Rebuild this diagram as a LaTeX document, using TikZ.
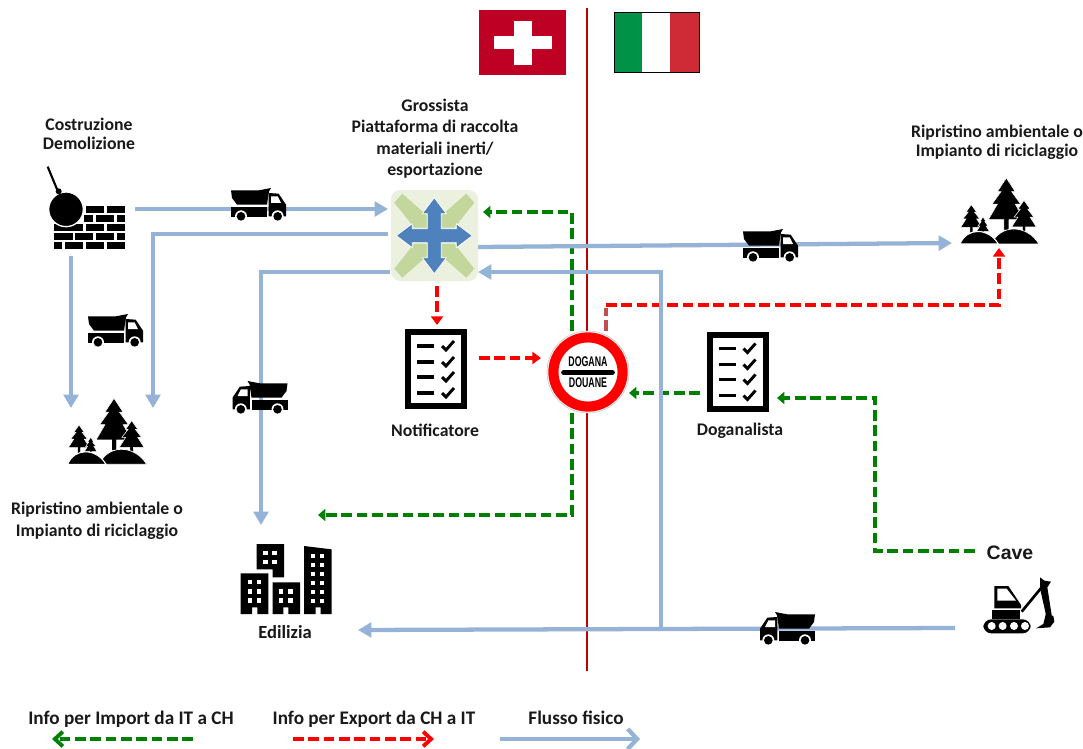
\documentclass[tikz,border=0pt]{standalone}
\usepackage{fontspec}
\setmainfont{Carlito}
\newfontfamily\cavefont{Liberation Sans}
\usetikzlibrary{arrows.meta,calc,shapes.geometric}
\pgfdeclarelayer{bg}
\pgfsetlayers{bg,main}
\definecolor{flowblue}{HTML}{95B3D7}
\definecolor{infogreen}{HTML}{008000}
\definecolor{inforedx}{HTML}{FF0000}
\definecolor{infobrown}{HTML}{C0504D}
\definecolor{borderred}{HTML}{C00000}
\definecolor{swissred}{HTML}{BD0024}
\definecolor{hubbg}{HTML}{EBF1DE}
\definecolor{hubgreen}{HTML}{C3D69B}
\definecolor{hubblue}{HTML}{4F81BD}
\newcommand{\firtree}[4]{\fill[black,draw=white,line width=.4pt,shift={(#1,#2)},xscale=#3,yscale=#4]
  (0,0)--(-.5,.33)--(-.3,.33)--(-.8,.63)--(-.5,.63)--(-1,1)--(-.14,1)--(-.14,1.25)--(.14,1.25)--(.14,1)--(1,1)--(.5,.63)--(.8,.63)--(.3,.33)--(.5,.33)--cycle;}
\newcommand{\winrow}[2]{\foreach \wx in {#1}{\fill[white] (\wx,#2) rectangle ++(13,13);}}
\tikzset{
  slot/.style n args={2}{inner sep=0pt,outer sep=0pt,minimum width=#1*0.75pt,minimum height=#2*0.75pt},
  lbl/.style={inner sep=0pt,outer sep=0pt,align=center,text=black!90,font=\fontsize{13.3}{14.3}\selectfont\bfseries},
  leglbl/.style={lbl,font=\fontsize{14.4}{16}\selectfont\bfseries},
  flow/.style={draw=flowblue,line width=3.2pt,-{Triangle[length=10pt,width=11pt]}},
  flowline/.style={draw=flowblue,line width=3.2pt},
  infodash/.style={line width=2.9pt,dash pattern=on 8pt off 3.5pt},
  greenarrow/.style={draw=infogreen,infodash,-{Triangle[length=5.5pt,width=9pt]}},
  redarrow/.style={draw=inforedx,infodash,-{Triangle[length=6.5pt,width=9pt]}},
  truckicon/.pic={
    \fill (0,7)--(83,7)--(120,0)--(114,10)--(108,50)--(18,50)--(3,30)--cycle;
    \fill (0,58) rectangle (108,88);
    \fill (113,15)--(143,17)--(165,50)--(165,85)--(113,85)--cycle;
    \fill[white] (120,25)--(140,25)--(150,45)--(120,45)--cycle;
    \foreach \cx in {30,140}{\fill[white] (\cx,85) circle[radius=18];\fill (\cx,85) circle[radius=13];}
  },
  checkicon/.pic={
    \draw[line width=4.5pt,fill=white] (-28,-37) rectangle (28,37);
    \foreach \ry in {-23,-7,8,24}{
      \draw[line width=2.4pt] (-19,\ry)--(-2,\ry);
      \draw[line width=2.2pt] (6,\ry)--(10,\ry+4)--(18,\ry-5);
    }
  },
  treesicon/.pic={
    \firtree{139}{0}{54}{125}
    \firtree{192}{67}{37}{80}
    \firtree{34}{80}{32}{68}
    \firtree{69}{117}{19}{43}
    \fill[draw=white,line width=.5pt] (95,198) .. controls (120,138) and (200,138) .. (237,198) -- cycle;
    \fill[draw=white,line width=.8pt] (0,198) .. controls (20,148) and (85,148) .. (115,198) -- cycle;
  }
}
\begin{document}
\begin{tikzpicture}[x=0.75pt,y=-0.75pt]
\useasboundingbox (0,0) rectangle (1083,749);

% anchor nodes
\node[slot={87}{89}] (dem) at (91.5,211.5) {};
\node[slot={85}{57}] (treeL) at (110.5,436.5) {};
\node[slot={85}{70}] (treeR) at (994.5,213) {};
\node[slot={117}{105}] (edil) at (299.5,577.5) {};
\node[slot={62}{80}] (notif) at (436,369) {};
\node[slot={63}{81}] (dogan) at (737.5,371.5) {};
\node[slot={70}{58}] (cave) at (1018,606) {};
\coordinate (junction) at (661,629);
\coordinate (redcorner) at (606,305);

% hub
\node[slot={87}{91},rectangle,rounded corners=7pt,fill=hubbg] (gross) at (434.5,235.5) {};
\begin{scope}[shift={(434.3,235.7)}]
  \foreach \sx/\sy in {1/1,-1/1,1/-1,-1/-1}{
    \fill[hubgreen,xscale=\sx,yscale=\sy] (-40,-33)--(-32,-42)--(-7,-20)--(-7,-8)--(-20,-8)--cycle;
  }
  \fill[hubblue,draw=white,line width=.5pt] (-38,0)--(-22,-12)--(-22,-7)--(-7,-7)--(-7,-22)--(-12,-22)--(0,-38)--(12,-22)--(7,-22)--(7,-7)--(22,-7)--(22,-12)--(38,0)--(22,12)--(22,7)--(7,7)--(7,22)--(12,22)--(0,38)--(-12,22)--(-7,22)--(-7,7)--(-22,7)--(-22,12)--cycle;
\end{scope}

% customs sign
\node[circle,inner sep=0pt,outer sep=0pt,minimum size=61.5pt,draw=black!25,line width=.4pt,fill=white] (dogana) at (588,372) {};
\draw[red,line width=7.6pt] (dogana.center) circle[radius=34.6];
\draw[line width=4.3pt,line cap=round] ($(dogana.center)+(-24,.5)$) -- ($(dogana.center)+(24,.5)$);
\node[inner sep=0pt,font=\cavefont\bfseries\fontsize{10.5}{12}\selectfont] (dog1) at ($(dogana.center)+(0,-10.5)$) {\scalebox{.63}[1]{DOGANA}};
\node[inner sep=0pt,font=\cavefont\bfseries\fontsize{10.5}{12}\selectfont] (dog2) at ($(dogana.center)+(0,11)$) {\scalebox{.63}[1]{DOUANE}};

% flags
\fill[swissred] (479,10) rectangle (566,75);
\fill[white] (494,36) rectangle (552,49);
\fill[white] (514,21) rectangle (532,65);
\fill[fill=white] (614,12) rectangle (699,72);
\fill[fill={rgb,255:red,0;green,146;blue,70}] (614,12) rectangle (642,72);
\fill[fill={rgb,255:red,206;green,43;blue,55}] (670,12) rectangle (699,72);
\draw[black,line width=.7pt] (614,12) rectangle (699,72);

% demolition icon
\begin{scope}[shift={(20,150)},scale=1/3]
  \draw[line width=1.6pt] (83,50)--(112,120);
  \foreach \ya/\bricks in {168/{197/252,260/315},195/{192/220,228/283,291/315},222/{102/190,197/252,260/315},250/{102/158,166/220,228/283,291/315},277/{102/127,135/190,197/252,260/315}}{
    \foreach \xa/\xb in \bricks {\fill (\xa,\ya) rectangle (\xb,\ya+20);}
  }
  \fill[draw=white,line width=1pt] (138,178) circle[radius=52];
  \fill (116,124) circle[radius=9];
\end{scope}

% trees
\pic[scale=1/3] at (67.7,398.3) {treesicon};
\pic[scale=1/3] at (960,178) {treesicon};

% buildings
\begin{scope}[shift={(220,530)},scale=1/3]
  \fill (110,42)--(192,42)--(192,142)--(158,142)--(158,118)--(110,118)--cycle;
  \winrow{130,157}{63}\winrow{130,157}{90}
  \fill (62,130)--(145,130)--(145,252)--(112,252)--(112,232)--(96,232)--(96,252)--(62,252)--cycle;
  \winrow{83,110}{150}\winrow{83,110}{178}\winrow{83,110}{205}
  \fill (158,157)--(240,157)--(240,252)--(205,252)--(205,232)--(190,232)--(190,252)--(158,252)--cycle;
  \winrow{177,205}{178}\winrow{177,205}{205}
  \fill (252,48)--(335,58)--(335,252)--(302,252)--(302,232)--(287,232)--(287,252)--(252,252)--cycle;
  \foreach \wy in {72,98,125,152,180,207}{\winrow{273,300}{\wy}}
\end{scope}

% excavator
\begin{scope}[shift={(940,530)},scale=1/3]
  \fill (163,168)--(205,168)--(243,225)--(243,235)--(163,235)--cycle;
  \fill[white] (172,176)--(200,176)--(228,212)--(172,212)--cycle;
  \fill (155,240) rectangle (240,268);
  \fill[rounded corners=6pt] (130,268) rectangle (272,310);
  \foreach \wx in {155,188,222,255}{\fill[white] (\wx,288) circle[radius=12];}
  \draw[line width=2pt] (245,245)--(305,172);
  \fill (300,142)--(313,152)--(333,155)--(322,172)--(335,255)--(318,255)--(300,175)--cycle;
  \fill (318,250)--(340,258)--(343,275)--(330,292)--(288,295)--(310,282)--cycle;
\end{scope}

% checklists
\pic at (notif.center) {checkicon};
\pic at (dogan.center) {checkicon};

% trucks
\pic[scale=1/3] (t1) at (231,188) {truckicon};
\pic[scale=1/3] (t2) at (88,314) {truckicon};
\pic[xscale=-1/3,yscale=1/3] (t3) at (287.5,381) {truckicon};
\pic[scale=1/3] (t4) at (743,229) {truckicon};
\pic[xscale=-1/3,yscale=1/3] (t5) at (815,612) {truckicon};

% labels
\node[lbl] (lCostr) at (89,133.5) {Costruzione\\Demolizione};
\node[lbl] (lGross) at (435,138.5) {Grossista\\[1.8pt]Piattaforma di raccolta\\[1.8pt]materiali inerti/\\[1.8pt]esportazione};
\node[lbl] (lRipR) at (997,142.5) {Ripristino ambientale o\\Impianto di riciclaggio};
\node[lbl] (lRipL) at (97,521) {Ripristino ambientale o\\[2.2pt]Impianto di riciclaggio};
\node[lbl] (lNotif) at (435,430) {Notificatore};
\node[lbl] (lDogan) at (740,430.5) {Doganalista};
\node[lbl,font=\fontsize{13.9}{15}\selectfont\bfseries] (lEdil) at (285,632) {Edilizia};
\node[inner sep=0pt,outer sep=0pt,font=\cavefont\bfseries\fontsize{14.6}{16}\selectfont,text=black!90] (lCave) at (1010,553) {Cave};
\node[leglbl] (lLegG) at (131,719) {Info per Import da IT a CH};
\node[leglbl] (lLegR) at (374,719) {Info per Export da CH a IT};
\node[leglbl] (lLegB) at (576,718) {Flusso fisico};

% legend ends
\coordinate (lgA) at (193,739); \coordinate (lgB) at (52,739);
\coordinate (lrA) at (293,739); \coordinate (lrB) at (434,739);
\coordinate (lbA) at (500,739); \coordinate (lbB) at (640,739);
\coordinate (borderTop) at (587,8); \coordinate (borderBot) at (587,671);

\begin{pgfonlayer}{bg}
  \fill[white] (0,0) rectangle (1083,749);
  \draw[borderred,line width=1.6pt] (borderTop) -- (borderBot);
  % green
  \draw[greenarrow] ($(dogana.north)+(-16,0)$) |- ($(gross.east)+(5,-23.5)$);
  \draw[greenarrow] ($(dogana.south)+(-16,0)$) |- ($(edil.north)+(18.5,-10)$);
  \draw[greenarrow] ($(dogan.west)+(-6,21.5)$) -- ($(dogana.east)+(0,21)$);
  \draw[greenarrow] ($(lCave.west)+(-12,-2)$) -| (875,398) -- ($(dogan.east)+(8,26.5)$);
  \draw[draw=infogreen,infodash,-{Straight Barb[length=6pt,width=11pt]}] (lgA) -- (lgB);
  % red
  \draw[redarrow] ($(gross.south)+(2.5,5)$) -- ($(notif.north)+(1,-4)$);
  \draw[redarrow] ($(notif.east)+(12,-11)$) -- ($(dogana.west)+(-6,-14)$);
  \draw[draw=infobrown,infodash] ($(dogana.north)+(18,0)$) -- ($(redcorner)+(0,3)$);
  \draw[redarrow] (redcorner) -| ($(treeR.south)+(4.5,0)$);
  \draw[draw=inforedx,infodash,-{Straight Barb[length=6pt,width=11pt]}] (lrA) -- (lrB);
  % blue
  \draw[flow] ($(dem.east)+(0,-2.5)$) -- ($(gross.west)+(-3,-26.5)$);
  \draw[flow] ($(gross.west)+(-3,-1.5)$) -| ($(treeL.north)+(42.5,0)$);
  \draw[flow] ($(dem.south)+(-20.5,0)$) -- ($(treeL.north)+(-39.5,0)$);
  \draw[flow] ($(gross.west)+(-1,36.5)$) -| ($(edil.north)+(-38.5,0)$);
  \draw[flow] ($(gross.east)+(0,11.5)$) -- ($(treeR.west)+(0,30)$);
  \draw[flow] ($(cave.west)+(-28,22)$) -- ($(edil.east)+(0,52.5)$);
  \draw[flow] (junction) |- ($(gross.east)+(0,36.5)$);
  \draw[flowline,-{Straight Barb[length=7pt,width=15pt]}] (lbA) -- (lbB);
\end{pgfonlayer}
\end{tikzpicture}
\end{document}
